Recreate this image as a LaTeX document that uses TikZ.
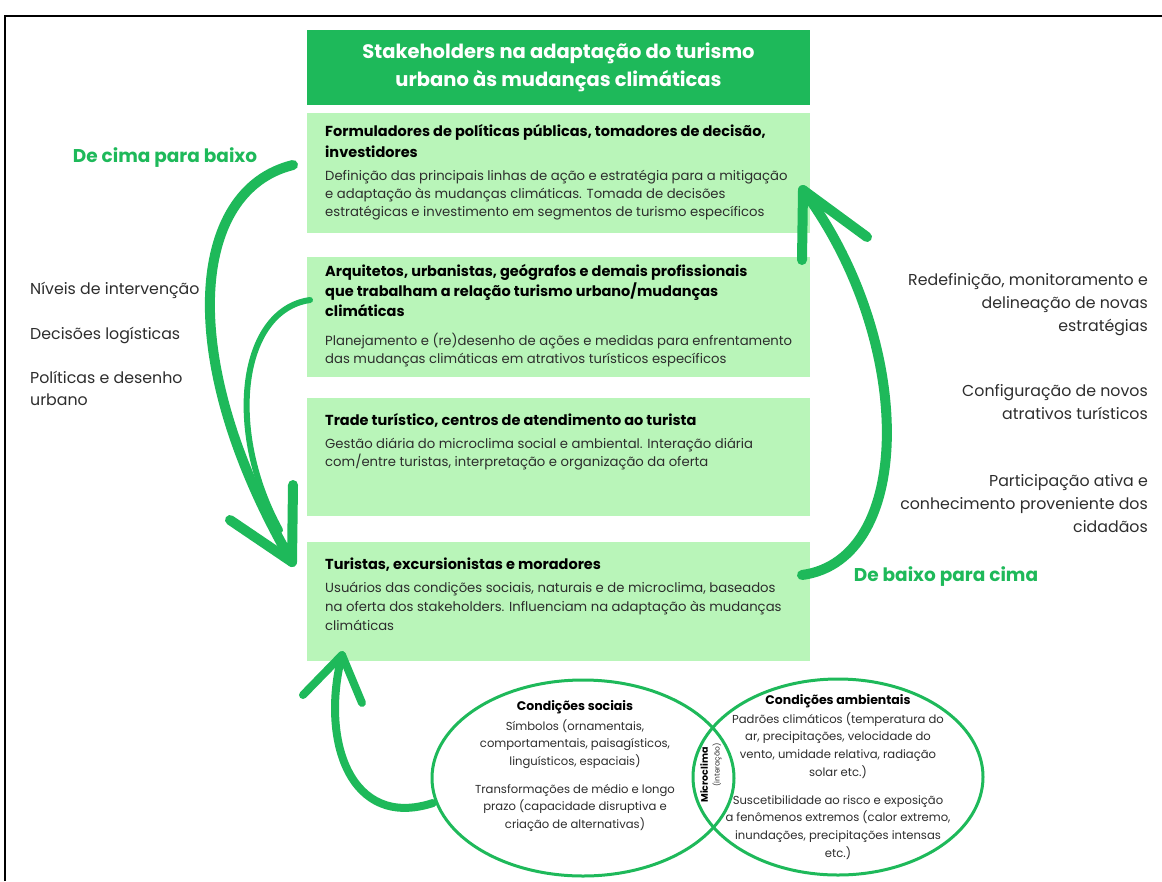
\documentclass[tikz,border=0pt]{standalone}
\usepackage{fontspec}
\setmainfont{Poppins}
\usetikzlibrary{shapes.geometric}
\definecolor{leaf}{RGB}{30,185,90}
\definecolor{mint}{RGB}{185,245,185}
\definecolor{ink}{RGB}{45,45,45}
\begin{document}
\begin{tikzpicture}[x=1pt,y=-1pt,
  band/.style={fill=leaf, minimum width=503pt, inner sep=0pt},
  panel/.style={fill=mint, minimum width=503pt, inner sep=0pt},
  head/.style={anchor=north west, inner sep=0pt, align=left, text=black,
    font=\fontsize{14.5}{21}\selectfont\bfseries},
  body/.style={anchor=north west, inner sep=0pt, align=left, text=ink,
    font=\fontsize{13.2}{18}\selectfont},
  side/.style={inner sep=0pt, text=ink, font=\fontsize{15.8}{23}\selectfont},
  flow/.style={inner sep=0pt, text=leaf, font=\fontsize{18.5}{18.5}\selectfont\bfseries},
  cond/.style={draw=leaf, line width=3pt, ellipse, inner sep=0pt},
  condtext/.style={anchor=north, inner sep=0pt, align=center, text=ink,
    font=\fontsize{11.6}{17.7}\selectfont},
  condhead/.style={anchor=north, inner sep=0pt, text=black,
    font=\fontsize{12.5}{12.5}\selectfont\bfseries},
  sweep/.style={draw=leaf, line cap=round, line join=round}]
\useasboundingbox (0,0) rectangle (1162,881);

% frame
\draw[line width=2.5pt] (5,881) -- (5,16) -- (1162,16);

% stakeholder panels
\node[band, minimum height=75pt] (title) at (558.5,67.5) {};
\node[text=white, align=center, inner sep=0pt,
  font=\fontsize{19.5}{28}\selectfont\bfseries] at (title.center)
  {Stakeholders na adaptação do turismo\\urbano às mudanças climáticas};

\node[panel, minimum height=120pt] (p1) at (558.5,173) {};
\node[head] at (325,124) {Formuladores de políticas públicas, tomadores de decisão,\\investidores};
\node[body] at (325,170) {Definição das principais linhas de ação e estratégia para a mitigação\\e adaptação às mudanças climáticas. Tomada de decisões\\estratégicas e investimento em segmentos de turismo específicos};

\node[panel, minimum height=120pt] (p2) at (558.5,317) {};
\node[head, font=\fontsize{14.5}{20}\selectfont\bfseries] at (325,264) {Arquitetos, urbanistas, geógrafos e demais profissionais\\que trabalham a relação turismo urbano/mudanças\\climáticas};
\node[body] at (325,333) {Planejamento e (re)desenho de ações e medidas para enfrentamento\\das mudanças climáticas em atrativos turísticos específicos};

\node[panel, minimum height=118pt] (p3) at (558.5,457) {};
\node[head] at (325,413) {Trade turístico, centros de atendimento ao turista};
\node[body] at (325,438) {Gestão diária do microclima social e ambiental. Interação diária\\com/entre turistas, interpretação e organização da oferta};

\node[panel, minimum height=119pt] (p4) at (558.5,601.5) {};
\node[head] at (325,558) {Turistas, excursionistas e moradores};
\node[body, font=\fontsize{13.2}{19}\selectfont] at (325,582) {Usuários das condições sociais, naturais e de microclima, baseados\\na oferta dos stakeholders. Influenciam na adaptação às mudanças\\climáticas};

% side labels
\node[flow] (down) at (165,158) {De cima para baixo};
\node[side, anchor=west] at (30,290) {Níveis de intervenção};
\node[side, anchor=west] at (30,335) {Decisões logísticas};
\node[side, anchor=north west, align=left, font=\fontsize{15.8}{22}\selectfont] at (30,371) {Políticas e desenho\\urbano};

\node[flow] (up) at (946,577) {De baixo para cima};
\node[side, anchor=north east, align=right] at (1148,273) {Redefinição, monitoramento e\\delineação de novas\\estratégias};
\node[side, anchor=north east, align=right] at (1148,384) {Configuração de novos\\atrativos turísticos};
\node[side, anchor=north east, align=right] at (1148,474) {Participação ativa e\\conhecimento proveniente dos\\cidadãos};

% conditions
\node[cond, minimum width=302pt, minimum height=196pt] (social) at (583,778) {};
\node[cond, minimum width=290pt, minimum height=196pt] (envir) at (838,777) {};
\node[condhead] at (575,700) {Condições sociais};
\node[condtext] at (575,719) {Símbolos (ornamentais,\\comportamentais, paisagísticos,\\linguísticos, espaciais)};
\node[condtext] at (575,784) {Transformações de médio e longo\\prazo (capacidade disruptiva e\\criação de alternativas)};
\node[condhead] at (838,694) {Condições ambientais};
\node[condtext] at (838,712) {Padrões climáticos (temperatura do\\ar, precipitações, velocidade do\\vento, umidade relativa, radiação\\solar etc.)};
\node[condtext] at (838,795) {Suscetibilidade ao risco e exposição\\a fenômenos extremos (calor extremo,\\inundações, precipitações intensas\\etc.)};
\node[rotate=90, inner sep=0pt, text=black, font=\fontsize{9.5}{9.5}\selectfont\bfseries] (micro) at (704,775) {Microclima};
\node[rotate=90, inner sep=0pt, text=ink, font=\fontsize{7.5}{7.5}\selectfont] at (717,765) {(interação)};

% top-down sweep
\coordinate (tdA) at (293,165);
\coordinate (tdB) at (292,562);
\coordinate (tdW1) at (293,485);
\coordinate (tdW2) at (230,520);
\draw[sweep, line width=10pt] (tdA) .. controls (190,190) and (175,360) .. (tdB);
\draw[sweep, line width=10pt] (tdW1) -- (tdB) -- (tdW2);
\coordinate (inA) at (310,300);
\coordinate (inB) at (280,530);
\draw[sweep, line width=6pt] (inA) .. controls (240,310) and (225,430) .. (inB);

% bottom-up sweep
\coordinate (buA) at (802,575);
\coordinate (buB) at (803,190);
\coordinate (buW1) at (802,260);
\coordinate (buW2) at (867,237);
\draw[sweep, line width=10pt] (buA) .. controls (915,560) and (915,340) .. (buB);
\draw[sweep, line width=10pt] (buW1) -- (buB) -- (buW2);

% conditions feed back to the users
\coordinate (fbA) at (433,803);
\coordinate (fbB) at (342,655);
\coordinate (fbW1) at (303,695);
\coordinate (fbW2) at (362,703);
\draw[sweep, line width=8pt] (fbA) .. controls (350,830) and (320,740) .. (fbB);
\draw[sweep, line width=8pt] (fbW1) -- (fbB) -- (fbW2);
\end{tikzpicture}
\end{document}
